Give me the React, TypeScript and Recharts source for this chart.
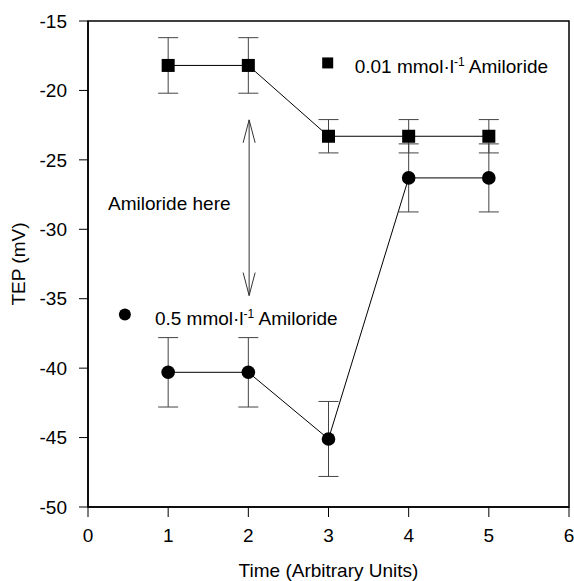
import React from 'react';
import {
  ComposedChart, Line, XAxis, YAxis, ErrorBar, ReferenceArea, ReferenceDot, ReferenceLine,
} from 'recharts';

// Time points
const timePoints = [1, 2, 3, 4, 5];
// 0.01 mmol/l Amiloride (squares)
const lowDoseTEP = [-18.2, -18.2, -23.3, -23.3, -23.3];
const lowDoseErr = [2.0, 2.0, 1.2, 1.2, 1.2];
// 0.5 mmol/l Amiloride (circles)
const highDoseTEP = [-40.3, -40.3, -45.1, -26.3, -26.3];
const highDoseErr = [2.5, 2.5, 2.7, 2.45, 2.45];

const xTicks = [0, 1, 2, 3, 4, 5, 6];
const yTicks = [-50, -45, -40, -35, -30, -25, -20, -15];

const lowData = timePoints.map((x, i) => ({ x, y: lowDoseTEP[i], err: lowDoseErr[i] }));
const highData = timePoints.map((x, i) => ({ x, y: highDoseTEP[i], err: highDoseErr[i] }));

// Annotation anchors (data coordinates)
const lowLegendAnchor = { x: 2.99, y: -18.02 };
const highLegendAnchor = { x: 0.46, y: -36.14 };
const hereAnchor = { x: 0.25, y: -28.59 };
const arrowX = 2.01;
const arrowTop = -22.12;
const arrowBottom = -34.77;
const headLen = 1.65;
const headHalf = 0.075;

const FONT = '"Liberation Sans", Arial, Helvetica, sans-serif';
const FS = 19;

const SquareDot = (props: any) => {
  const { cx, cy, index } = props;
  if (cx == null || cy == null) return null;
  return <rect key={`sq-${index}`} x={cx - 6.5} y={cy - 6.5} width={13} height={13} fill="#000" />;
};
const CircleDot = (props: any) => {
  const { cx, cy, index } = props;
  if (cx == null || cy == null) return null;
  return <circle key={`ci-${index}`} cx={cx} cy={cy} r={6.8} fill="#000" />;
};

const legendText = (x: number, y: number, prefix: string) => (
  <text x={x} y={y} fontFamily={FONT} fontSize={FS} fill="#000">
    {prefix}
    <tspan fontSize={12} dy={-7}>-1</tspan>
    <tspan dy={7}> Amiloride</tspan>
  </text>
);

const LowLegend = (props: any) => {
  const { cx, cy } = props;
  return (
    <g>
      <rect x={cx - 5.5} y={cy - 5.5} width={11} height={11} fill="#000" />
      {legendText(cx + 27, cy + 10, '0.01 mmol·l')}
    </g>
  );
};
const HighLegend = (props: any) => {
  const { cx, cy } = props;
  return (
    <g>
      <circle cx={cx} cy={cy} r={6} fill="#000" />
      {legendText(cx + 30, cy + 10, '0.5 mmol·l')}
    </g>
  );
};
const HereLabel = (props: any) => {
  const { cx, cy } = props;
  return (
    <text x={cx} y={cy} fontFamily={FONT} fontSize={FS} fill="#000">Amiloride here</text>
  );
};

export default function App() {
  return (
    <div style={{ position: 'absolute', left: 0, top: 0, width: 574, height: 581, background: '#fff' }}>
      <ComposedChart
        width={574}
        height={581}
        margin={{ top: 21, right: 5, bottom: 0, left: 0 }}
        style={{ fontFamily: FONT }}
      >
        <XAxis
          dataKey="x"
          type="number"
          domain={[0, 6]}
          ticks={xTicks}
          interval={0}
          allowDataOverflow
          height={74}
          tickSize={10}
          tickMargin={12}
          axisLine={{ stroke: '#000', strokeWidth: 1.5 }}
          tickLine={{ stroke: '#000', strokeWidth: 1 }}
          tick={{ fill: '#000', fontSize: FS, fontFamily: FONT }}
          label={{ value: 'Time (Arbitrary Units)', position: 'insideBottom', offset: 4, fill: '#000', fontSize: FS, fontFamily: FONT }}
        />
        <YAxis
          type="number"
          domain={[-50, -15]}
          ticks={yTicks}
          interval={0}
          allowDataOverflow
          width={88}
          tickSize={9}
          tickMargin={12}
          axisLine={{ stroke: '#000', strokeWidth: 1.5 }}
          tickLine={{ stroke: '#000', strokeWidth: 1 }}
          tick={{ fill: '#000', fontSize: FS, fontFamily: FONT }}
          label={{ value: 'TEP (mV)', angle: -90, position: 'insideLeft', offset: 18, fill: '#000', fontSize: FS, fontFamily: FONT, style: { textAnchor: 'middle' } }}
        />
        <ReferenceArea x1={0} x2={6} y1={-50} y2={-15} fill="none" fillOpacity={0} stroke="#000" strokeWidth={1.5} ifOverflow="visible" />
        <ReferenceLine segment={[{ x: arrowX, y: arrowTop }, { x: arrowX, y: arrowBottom }]} stroke="#333" strokeWidth={1} />
        <ReferenceLine segment={[{ x: arrowX, y: arrowTop }, { x: arrowX - headHalf, y: arrowTop - headLen }]} stroke="#333" strokeWidth={1} />
        <ReferenceLine segment={[{ x: arrowX, y: arrowTop }, { x: arrowX + headHalf, y: arrowTop - headLen }]} stroke="#333" strokeWidth={1} />
        <ReferenceLine segment={[{ x: arrowX, y: arrowBottom }, { x: arrowX - headHalf, y: arrowBottom + headLen }]} stroke="#333" strokeWidth={1} />
        <ReferenceLine segment={[{ x: arrowX, y: arrowBottom }, { x: arrowX + headHalf, y: arrowBottom + headLen }]} stroke="#333" strokeWidth={1} />
        <Line
          data={lowData}
          dataKey="y"
          stroke="#000"
          strokeWidth={1}
          dot={SquareDot}
          activeDot={false}
          isAnimationActive={false}
        >
          <ErrorBar dataKey="err" direction="y" width={10} stroke="#444" strokeWidth={1} />
        </Line>
        <Line
          data={highData}
          dataKey="y"
          stroke="#000"
          strokeWidth={1}
          dot={CircleDot}
          activeDot={false}
          isAnimationActive={false}
        >
          <ErrorBar dataKey="err" direction="y" width={10} stroke="#444" strokeWidth={1} />
        </Line>
        <ReferenceDot x={lowLegendAnchor.x} y={lowLegendAnchor.y} shape={LowLegend} />
        <ReferenceDot x={highLegendAnchor.x} y={highLegendAnchor.y} shape={HighLegend} />
        <ReferenceDot x={hereAnchor.x} y={hereAnchor.y} shape={HereLabel} />
      </ComposedChart>
    </div>
  );
}
